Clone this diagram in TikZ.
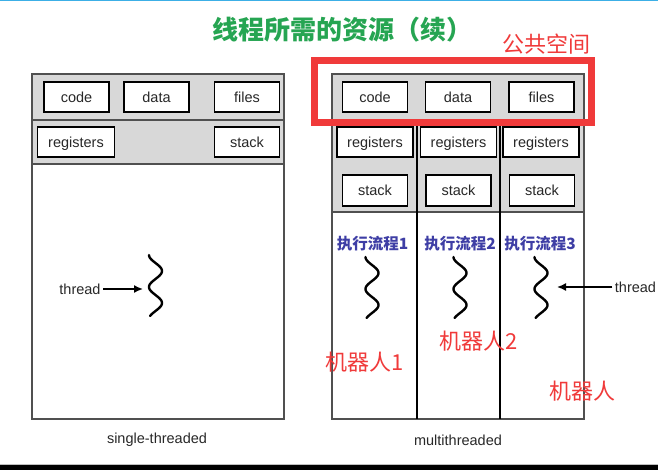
\documentclass[tikz,border=0pt]{standalone}
\usepackage{fontspec}
\setmainfont{Liberation Sans}
\newfontfamily\cjk{Noto Sans CJK SC}
\usetikzlibrary{arrows.meta}
\definecolor{bandgray}{RGB}{216,216,216}
\definecolor{framegray}{RGB}{80,80,80}
\definecolor{txtgray}{RGB}{40,40,40}
\definecolor{titlegreen}{RGB}{38,165,82}
\definecolor{markred}{RGB}{240,58,58}
\definecolor{flowblue}{RGB}{62,62,165}
\definecolor{topblue}{RGB}{60,175,230}
\tikzset{
  box/.style={draw=black, line width=1.7, fill=white, minimum width=65, minimum height=30,
    inner sep=0, text height=11, text depth=0, font=\fontsize{14.5}{16}\selectfont, text=txtgray},
  regbox/.style={box, minimum width=77},
  frame/.style={draw=framegray, line width=1.4},
  divider/.style={draw=black, line width=1.8},
  wave/.style={draw=black, line width=2.4, line cap=round},
  lbl/.style={font=\fontsize{14.5}{16}\selectfont, text=txtgray, inner sep=2.5},
  arr/.style={draw=black, line width=1.6, -{Latex[length=9,width=8]}},
  redlbl/.style={font=\cjk\fontsize{22}{24}\selectfont, text=markred, inner sep=0},
  flowlbl/.style={font=\cjk\bfseries\fontsize{15.5}{17}\selectfont, text=flowblue, inner sep=0},
}
\newcommand\threadwave[2]{\draw[wave] plot[domain=0:61, samples=80, variable=\t] ({#1 - 6.5*cos(11.25*\t)}, {#2+\t});}
\begin{document}
\begin{tikzpicture}[x=1pt,y=-1pt]
\useasboundingbox (0,0) rectangle (658,470);
\fill[white] (0,0) rectangle (658,470);
\fill[topblue] (0,0) rectangle (658,1.5);
\fill[black] (0,465) rectangle (658,470);
\draw[gray!50, line width=0.8] (0,464) -- (658,464);

% title
\node[font=\cjk\bfseries\fontsize{26}{28}\selectfont, text=titlegreen] (title) at (342,30) {线程所需的资源（续）};

% ---------- single-threaded ----------
\fill[bandgray] (32,74) rectangle (284,164);
\draw[frame] (32,74) rectangle (284,419);
\draw[frame] (32,120) -- (284,120);
\draw[frame] (32,164) -- (284,164);
\node[box] (codeL) at (76.5,97) {code};
\node[box] (dataL) at (156.5,97) {data};
\node[box] (filesL) at (247,97) {files};
\node[regbox] (regL) at (76,142) {registers};
\node[box] (stackL) at (247,142) {stack};
\threadwave{155.5}{255}
\node[lbl] (thrL) at (80,289) {thread};
\coordinate (tipL) at (143,289);
\draw[arr] (thrL) -- (tipL);
\node[lbl] (capL) at (157,440) {single-threaded};

% ---------- multithreaded ----------
\fill[bandgray] (332,74) rectangle (584,212);
\draw[frame] (332,74) rectangle (584,419);
\draw[frame] (332,120) -- (584,120);
\draw[frame] (332,212) -- (584,212);
\draw[divider] (417,120) -- (417,419);
\draw[divider] (500,120) -- (500,419);
\node[box] (codeR) at (375,97) {code};
\node[box] (dataR) at (458,97) {data};
\node[box] (filesR) at (541.5,97) {files};
\node[regbox, minimum width=76] (reg1) at (375,142) {registers};
\node[regbox, minimum width=76] (reg2) at (458.5,142) {registers};
\node[regbox, minimum width=76] (reg3) at (541,142) {registers};
\node[box, minimum height=31] (stack1) at (375,190.5) {stack};
\node[box, minimum height=31] (stack2) at (458.5,190.5) {stack};
\node[box, minimum height=31] (stack3) at (542,190.5) {stack};
\node[flowlbl] (flow1) at (372.5,244) {执行流程1};
\node[flowlbl] (flow2) at (460,244) {执行流程2};
\node[flowlbl] (flow3) at (540,244) {执行流程3};
\threadwave{372}{257}
\threadwave{460}{257}
\threadwave{541}{257}
\node[lbl] (thrR) at (635.5,287) {thread};
\coordinate (tipR) at (557,287);
\draw[arr] (thrR) -- (tipR);
\node[lbl] (capR) at (458,440) {multithreaded};

% ---------- annotations ----------
\node[draw=markred, line width=7, minimum width=277, minimum height=62, inner sep=0] (shared) at (453,91.5) {};
\node[redlbl] (sharedlbl) at (546,44) {公共空间};
\node[redlbl] (robot1) at (365,362) {机器人1};
\node[redlbl] (robot2) at (479,341) {机器人2};
\node[redlbl] (robot3) at (582,391) {机器人};
\end{tikzpicture}
\end{document}
